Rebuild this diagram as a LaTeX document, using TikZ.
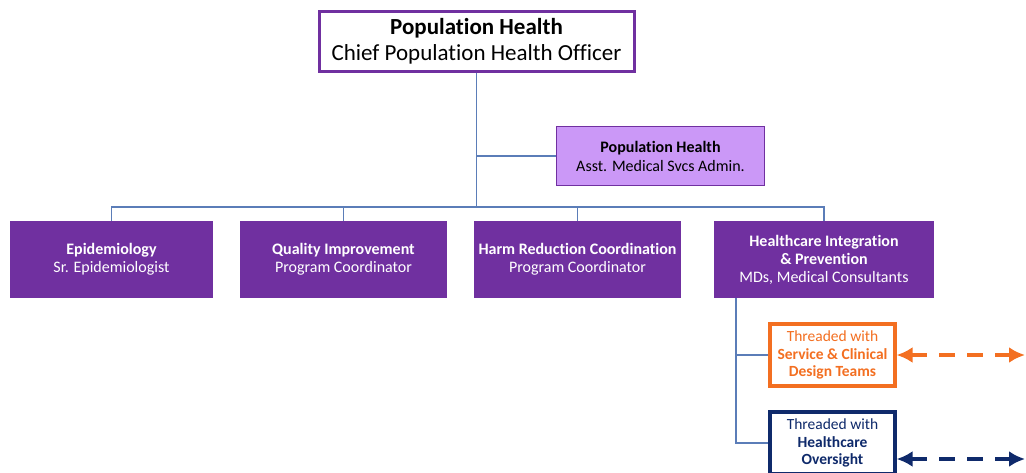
\documentclass[tikz,border=0pt]{standalone}
\usepackage{fontspec}
\setmainfont{Carlito}[Ligatures=NoCommon]
\usetikzlibrary{arrows.meta}

\definecolor{ppurple}{HTML}{7030A0}
\definecolor{lpurple}{HTML}{CB98F7}
\definecolor{linkblue}{HTML}{5B7DB8}
\definecolor{torange}{HTML}{F36F21}
\definecolor{tnavy}{HTML}{0F2A6B}

\begin{document}
\begin{tikzpicture}[x=1pt, y=-1pt,
    unit/.style={fill=ppurple, text=white, align=center, inner sep=0pt,
                 minimum height=77pt, font=\fontsize{16}{18}\selectfont},
    link/.style={color=linkblue, line width=1.2pt},
    thread/.style={draw=#1, text=#1, line width=3.2pt, fill=white, align=center, inner sep=0pt,
                   minimum width=125pt, minimum height=62pt, font=\fontsize{15.5}{17.5}\selectfont},
    tie/.style={{Latex[length=16pt,width=16pt]}-{Latex[length=16pt,width=16pt]}, line width=4pt, dash pattern=on 16pt off 12pt}]

    \useasboundingbox (0,0) rectangle (1026,472);

    % top of chart
    \node [draw=ppurple, line width=3pt, fill=white, align=center, inner sep=0pt,
           minimum width=315pt, minimum height=60pt, font=\fontsize{23}{26}\selectfont]
          (top) at (476.5,41) {\textbf{Population Health}\\Chief Population Health Officer};

    \node [draw=ppurple, line width=0.8pt, fill=lpurple, align=center, inner sep=0pt,
           minimum width=208pt, minimum height=59pt, font=\fontsize{16}{19}\selectfont]
          (asst) at (660.5,156) {\textbf{Population Health}\\Asst. Medical Svcs Admin.};

    % units
    \node [unit, minimum width=203pt] (epi) at (111.5,259.5) {\textbf{Epidemiology}\\Sr. Epidemiologist};
    \node [unit, minimum width=207pt] (qi) at (343.5,259.5) {\textbf{Quality Improvement}\\Program Coordinator};
    \node [unit, minimum width=207pt] (harm) at (577.5,259.5) {\textbf{Harm Reduction Coordination}\\Program Coordinator};
    \node [unit, minimum width=220pt] (hip) at (824,259.5) {\textbf{Healthcare Integration}\\\textbf{\& Prevention}\\MDs, Medical Consultants};

    % threads
    \node [thread=torange] (svc) at (832.5,355) {Threaded with\\\textbf{Service \& Clinical}\\\textbf{Design Teams}};
    \node [thread=tnavy] (ovs) at (832.5,443) {Threaded with\\\textbf{Healthcare}\\\textbf{Oversight}};

    % lines
    \coordinate (bus) at (476.5,207);
    \coordinate (trunk) at (736,298);

    \draw [link] (top.south) -- (bus);
    \draw [link] (top.south |- asst.west) -- (asst.west);
    \draw [link] (epi.north) |- (bus) -| (hip.north);
    \draw [link] (qi.north) -- (qi.north |- bus);
    \draw [link] (harm.north) -- (harm.north |- bus);

    \draw [link] (trunk) |- (ovs.west);
    \draw [link] (trunk |- svc.west) -- (svc.west);

    % outside links
    \coordinate (svcend) at (1025,355);
    \coordinate (ovsend) at (1025,459);
    \draw [tie, torange] (svc.east) -- (svcend);
    \draw [tie, tnavy] (svc.east |- ovsend) -- (ovsend);

\end{tikzpicture}
\end{document}
